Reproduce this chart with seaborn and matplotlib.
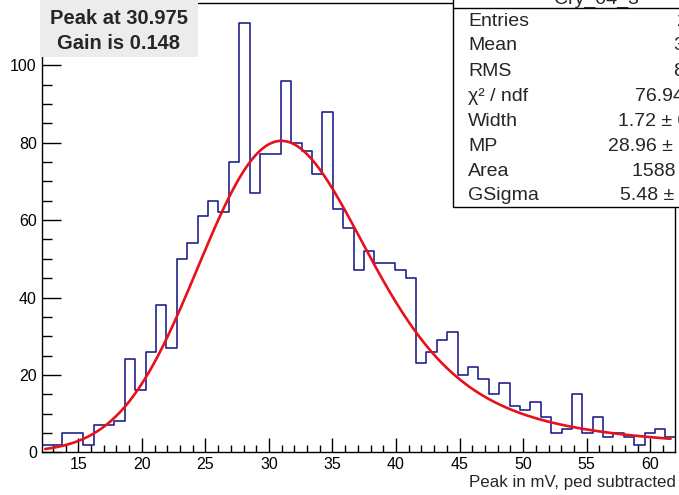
import numpy as np
import pandas as pd
import matplotlib
matplotlib.use("Agg")
import matplotlib.pyplot as plt
import seaborn as sns
from matplotlib.patches import Rectangle
from matplotlib.lines import Line2D

# ---- histogram contents (61 bins) ----
counts = [2, 2, 5, 5, 2, 7, 7, 8, 24, 16,
          26, 38, 27, 50, 54, 61, 65, 62, 75, 111,
          67, 77, 77, 96, 80, 78, 72, 88, 63, 58,
          47, 52, 49, 49, 47, 45, 23, 26, 29, 31,
          20, 22, 19, 15, 18, 12, 11, 13, 9, 5,
          6, 15, 5, 9, 4, 5, 4, 2, 5, 6, 4]
hist_low = 12.12
hist_bin = 0.818

# ---- Landau (x) Gauss fit parameters ----
fit_width = 1.72
fit_mp = 28.96
fit_area = 1588.0
fit_gsigma = 5.48
fit_range = (12.4, 61.6)

title = "Cry_04_3"
peak_text = "Peak at 30.975"
gain_text = "Gain is 0.148"
x_label = "Peak in mV, ped subtracted"
x_ticks = [15, 20, 25, 30, 35, 40, 45, 50, 55, 60]
y_ticks = [0, 20, 40, 60, 80, 100]

counts = np.asarray(counts, float)
edges = hist_low + hist_bin * np.arange(len(counts) + 1)
centers = 0.5 * (edges[:-1] + edges[1:])
df = pd.DataFrame({"x": centers, "n": counts})

entries = int(counts.sum())
mean = float((counts * centers).sum() / counts.sum())
rms = float(np.sqrt((counts * (centers - mean) ** 2).sum() / counts.sum()))


def landau_pdf(lam):
    """Standard Landau density via a saddle-point contour integral."""
    lam = np.asarray(lam, float)
    out = np.zeros_like(lam)
    y = np.linspace(0.0, 60.0, 24001)
    idx = np.where(lam > -5.0)[0]
    for k in range(0, len(idx), 100):
        sel = idx[k:k + 100]
        l = lam[sel][:, None]
        c = np.exp(-1.0 - l)
        s = c + 1j * y[None, :]
        f = np.exp(s * np.log(s) + l * s)
        out[sel] = np.trapezoid(f.real, y, axis=1) / np.pi
    return out


def langaus(x, width, mp, area, gsigma):
    mpc = mp + 0.22278298 * width
    xx = np.arange(-10.0, 110.0, 0.05)
    land = landau_pdf((xx - mpc) / width) / width
    g = np.exp(-0.5 * ((x[:, None] - xx[None, :]) / gsigma) ** 2) / (np.sqrt(2 * np.pi) * gsigma)
    return area * (g * land[None, :]).sum(axis=1) * 0.05


fit_x = np.linspace(fit_range[0], fit_range[1], 400)
fit_y = langaus(fit_x, fit_width, fit_mp, fit_area, fit_gsigma)
fit_df = pd.DataFrame({"x": fit_x, "y": fit_y})

# ---- figure ----
sns.set_theme(style="white")
plt.rcParams["font.family"] = ["Liberation Sans", "DejaVu Sans"]

W, H = 679, 495
fig = plt.figure(figsize=(W / 100, H / 100), dpi=100)
fx = lambda px: px / W
fy = lambda py: 1 - py / H

ax_l, ax_r, ax_b, ax_t = 41.7, 675.0, 452.3, 2.7
ax = fig.add_axes([fx(ax_l), fy(ax_b), (ax_r - ax_l) / W, (ax_b - ax_t) / H])

navy = "#22228c"
sns.histplot(data=df, x="x", weights="n", bins=list(edges), element="step",
             fill=False, color=navy, linewidth=1.2, ax=ax)
sns.lineplot(data=fit_df, x="x", y="y", color="#e8101a", linewidth=1.9, ax=ax)

ax.set_xlim(hist_low, 61.95)
ax.set_ylim(0, 116.2)
ax.set_xlabel("")
ax.set_ylabel("")
ax.set_xticks(x_ticks)
ax.set_yticks(y_ticks)
ax.set_xticks(np.arange(13, 62, 1), minor=True)
ax.set_yticks(np.arange(0, 116, 5), minor=True)
ax.tick_params(axis="both", which="both", direction="in", color="black",
               width=1.0, labelsize=11.5, bottom=True, left=True,
               top=False, right=False, labelcolor="black")
ax.tick_params(axis="y", which="major", length=14, pad=3.5)
ax.tick_params(axis="y", which="minor", length=7)
ax.tick_params(axis="x", which="major", length=10, pad=3.5)
ax.tick_params(axis="x", which="minor", length=5)
for sp in ax.spines.values():
    sp.set_color("black")
    sp.set_linewidth(1.0)

fig.text(fx(676), fy(482), x_label, ha="right", va="center", fontsize=12.2)

# ---- peak / gain box ----
fig.patches.append(Rectangle((fx(40), fy(57)), (198 - 40) / W, 57 / H,
                             transform=fig.transFigure, facecolor="#ececec",
                             edgecolor="none", zorder=5))
fig.text(fx(119), fy(18.5), peak_text, ha="center", va="center",
         fontsize=14.5, fontweight="bold", zorder=6)
fig.text(fx(119), fy(43.5), gain_text, ha="center", va="center",
         fontsize=14.5, fontweight="bold", zorder=6)

# ---- statistics box ----
box_l = 453.3
fig.patches.append(Rectangle((fx(box_l), fy(206.7)), (W + 20 - box_l) / W, (206.7 + 10) / H,
                             transform=fig.transFigure, facecolor="white",
                             edgecolor="black", linewidth=1.0, zorder=5))
fig.lines.append(Line2D([fx(box_l), fx(W + 5)], [fy(8.3), fy(8.3)],
                        transform=fig.transFigure, color="black", linewidth=1.0, zorder=6))
fig.text(fx(596), fy(-1.0), title, ha="center", va="center", fontsize=14, zorder=6)

labels = ["Entries", "Mean", "RMS", "χ² / ndf", "Width", "MP", "Area", "GSigma"]
values = [f"{entries}", f"{mean:.2f}", f"{rms:.3f}", "76.94 / 57",
          f"{fit_width:.2f} ± 0.41", f"{fit_mp:.2f} ± 0.27",
          f"{fit_area:.0f} ± 40", f"{fit_gsigma:.2f} ± 0.38"]
rows_y = [21, 46, 71, 96.7, 121.7, 146.7, 171.7, 195.5]
value_x = [677.5, 673.3, 673.3, 635.0, 618.3, 608.3, 631.7, 620.0]
for lab, val, yy, vx in zip(labels, values, rows_y, value_x):
    fig.text(fx(468.3), fy(yy), lab, ha="left", va="center", fontsize=14, zorder=6)
    fig.text(fx(vx), fy(yy), val, ha="left", va="center", fontsize=14, zorder=6)

fig.savefig("out.png", dpi=100)
